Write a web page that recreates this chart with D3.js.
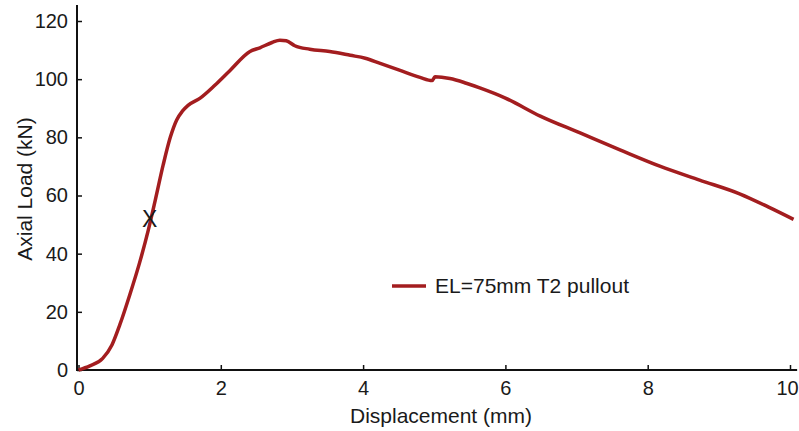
<!DOCTYPE html>
<html>
<head>
<meta charset="utf-8">
<script src="https://cdn.jsdelivr.net/npm/d3@7"></script>
<style>
  body { margin: 0; background: #fff; }
  text { font-family: "Liberation Sans", Arial, sans-serif; fill: #1a1a1a; }
</style>
</head>
<body>
<div id="chart"></div>
<script>
const displacement = [0, 0.16, 0.34, 0.47, 0.58, 0.72, 0.86, 0.98, 1.08, 1.19, 1.29, 1.38, 1.46, 1.54, 1.71, 1.92, 2.13, 2.41, 2.55, 2.72, 2.83, 2.92, 3.04, 3.25, 3.53, 3.82, 4.03, 4.24, 4.52, 4.80, 4.97, 5.01, 5.22, 5.45, 5.64, 6.0, 6.49, 7.05, 7.61, 8.17, 8.73, 9.30, 9.70, 10.05];
const load = [0, 1.4, 4, 8.6, 15.5, 25.8, 37, 48, 58.5, 70.5, 80, 86, 89, 91, 93.5, 98, 103, 109.5, 110.8, 112.6, 113.4, 113.2, 111.5, 110.3, 109.5, 108.2, 107.2, 105.4, 103, 100.6, 99.5, 100.8, 100.2, 98.6, 97, 93.5, 87.3, 81.5, 75.7, 70.1, 65.3, 60.5, 56.0, 51.8];
const xTicks = [0, 2, 4, 6, 8, 10];
const yTicks = [0, 20, 40, 60, 80, 100, 120];
const seriesName = "EL=75mm T2 pullout";
const marker = { x: 1.0, y: 52, label: "X" };

const width = 799, height = 431;
const svg = d3.select("#chart").append("svg")
  .attr("width", width).attr("height", height);

const x = d3.scaleLinear().domain([0, 10]).range([78.5, 790]);
const y = d3.scaleLinear().domain([0, 120]).range([370, 21]);

// axes, ticks pointing inward
const xAxis = svg.append("g")
  .attr("transform", `translate(0,${y(0)})`)
  .call(d3.axisBottom(x).tickValues(xTicks).tickSize(-5).tickPadding(11).tickFormat(d3.format("d")));
const yAxis = svg.append("g")
  .attr("transform", `translate(${x(0) - 1.5},0)`)
  .call(d3.axisLeft(y).tickValues(yTicks).tickSize(-5).tickPadding(9).tickFormat(d3.format("d")));

[xAxis, yAxis].forEach(a => {
  a.select(".domain").remove();
  a.selectAll(".tick line").attr("stroke", "#111").attr("stroke-width", 1.5);
  a.selectAll(".tick text").style("font-size", "20px").attr("fill", "#1a1a1a");
});
// keep the last label inside the page
xAxis.selectAll(".tick text").filter(d => d === 10).attr("dx", "-3px");

svg.append("line")
  .attr("x1", x(0) - 1.5).attr("x2", x(10.1))
  .attr("y1", y(0)).attr("y2", y(0))
  .attr("stroke", "#111").attr("stroke-width", 2);
svg.append("line")
  .attr("x1", x(0) - 1.5).attr("x2", x(0) - 1.5)
  .attr("y1", y(0) + 1).attr("y2", y(125.5))
  .attr("stroke", "#111").attr("stroke-width", 2);

// axis titles
svg.append("text")
  .attr("x", 441).attr("y", 423)
  .attr("text-anchor", "middle")
  .style("font-size", "21px")
  .text("Displacement (mm)");
svg.append("text")
  .attr("transform", "translate(32,189) rotate(-90)")
  .attr("text-anchor", "middle")
  .style("font-size", "21px")
  .text("Axial Load (kN)");

// curve
const pts = displacement.map((d, i) => [d, load[i]]);
svg.append("path")
  .datum(pts)
  .attr("fill", "none")
  .attr("stroke", "#a31d1f")
  .attr("stroke-width", 3.5)
  .attr("stroke-linejoin", "round")
  .attr("d", d3.line().curve(d3.curveMonotoneX).x(d => x(d[0])).y(d => y(d[1])));

// marker
svg.append("text")
  .attr("x", x(marker.x)).attr("y", y(marker.y) + 8)
  .attr("text-anchor", "middle")
  .style("font-size", "23px")
  .attr("fill", "#111")
  .text(marker.label);

// legend
const lg = svg.append("g").attr("transform", "translate(392,286)");
lg.append("line").attr("x1", 0).attr("x2", 34)
  .attr("stroke", "#a31d1f").attr("stroke-width", 3.5);
lg.append("text").attr("x", 43).attr("y", 7)
  .style("font-size", "21px")
  .text(seriesName);
</script>
</body>
</html>
